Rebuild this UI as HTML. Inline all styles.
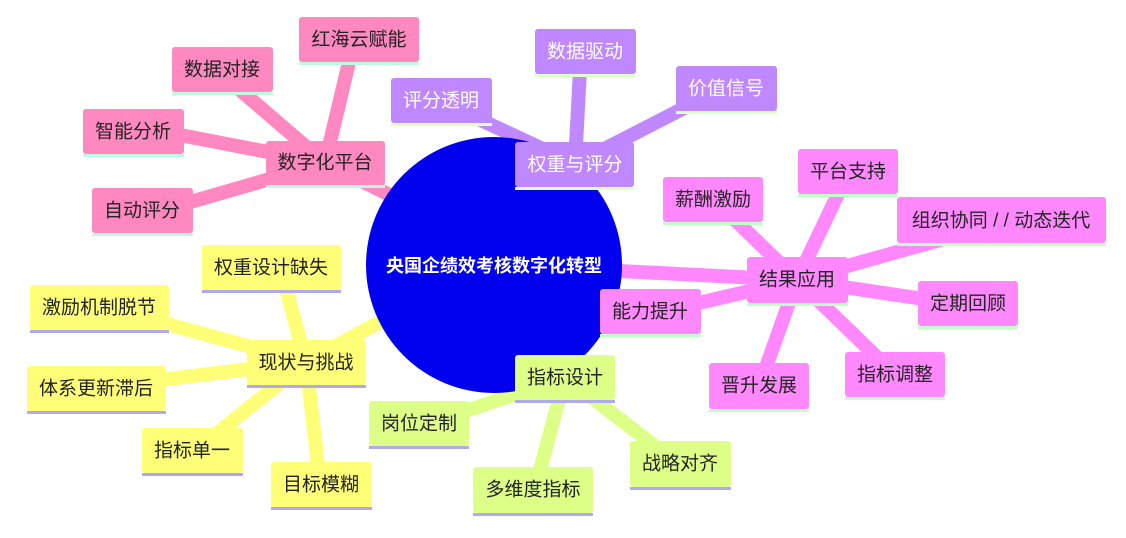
<!DOCTYPE html>
<html><head><meta charset="utf-8"><style>
body{margin:0;background:#fff}
svg text{font-family:"Liberation Sans","Noto Sans CJK SC",sans-serif;font-size:19px;dominant-baseline:central;text-anchor:middle}
</style></head><body>
<svg width="1126" height="533" viewBox="0 0 1126 533" xmlns="http://www.w3.org/2000/svg">
<g stroke-linecap="round" fill="none">
<g stroke="#ff88c0" stroke-width="14">
<line x1="400" y1="200" x2="325" y2="163"/>
<line x1="325" y1="163" x2="350" y2="58"/>
<line x1="325" y1="163" x2="240" y2="90"/>
<line x1="325" y1="163" x2="180" y2="135"/>
<line x1="325" y1="163" x2="180" y2="205"/>
</g>
<g stroke="#c088ff" stroke-width="14">
<line x1="575" y1="164" x2="580" y2="70"/>
<line x1="575" y1="164" x2="470" y2="115"/>
<line x1="575" y1="164" x2="690" y2="105"/>
</g>
<g stroke="#ff88ff" stroke-width="14">
<line x1="600" y1="270" x2="797" y2="280"/>
<line x1="797" y1="280" x2="730" y2="215"/>
<line x1="797" y1="280" x2="840" y2="190"/>
<line x1="797" y1="280" x2="940" y2="240"/>
<line x1="797" y1="280" x2="930" y2="300"/>
<line x1="797" y1="280" x2="880" y2="360"/>
<line x1="797" y1="280" x2="765" y2="370"/>
<line x1="797" y1="280" x2="690" y2="305"/>
</g>
<g stroke="#ffff77" stroke-width="14">
<line x1="380" y1="322" x2="306" y2="362"/>
<line x1="306" y1="362" x2="285" y2="285"/>
<line x1="306" y1="362" x2="160" y2="322"/>
<line x1="306" y1="362" x2="160" y2="380"/>
<line x1="306" y1="362" x2="215" y2="435"/>
<line x1="306" y1="362" x2="318" y2="465"/>
</g>
<g stroke="#ddff88" stroke-width="14">
<line x1="565" y1="377" x2="440" y2="420"/>
<line x1="565" y1="377" x2="540" y2="470"/>
<line x1="565" y1="377" x2="660" y2="450"/>
</g>
</g>
<circle cx="494" cy="265" r="128" fill="#0000ee"/>
<text x="494" y="266" fill="#fff" font-weight="bold" style="font-size:18px">央国企绩效考核数字化转型</text>

<g>
<g fill="#ff88c0">
<rect x="266" y="141" width="119" height="44" rx="3"/>
<rect x="299" y="17" width="120" height="45" rx="3"/>
<rect x="172" y="47" width="101" height="45" rx="3"/>
<rect x="83" y="109" width="101" height="45" rx="3"/>
<rect x="92" y="188" width="101" height="45" rx="3"/>
</g>
<g fill="#c0f8e0">
<rect x="266" y="185" width="119" height="3"/>
<rect x="299" y="62" width="120" height="3"/>
<rect x="172" y="92" width="101" height="3"/>
<rect x="83" y="154" width="101" height="3"/>
<rect x="92" y="233" width="101" height="3"/>
</g>
<g fill="#222">
<text x="325" y="163">数字化平台</text>
<text x="359" y="40">红海云赋能</text>
<text x="222" y="70">数据对接</text>
<text x="133" y="132">智能分析</text>
<text x="142" y="211">自动评分</text>
</g>
<g fill="#c088ff">
<rect x="515" y="142" width="119" height="45" rx="3"/>
<rect x="391" y="78" width="101" height="45" rx="3"/>
<rect x="535" y="29" width="101" height="45" rx="3"/>
<rect x="676" y="66" width="101" height="45" rx="3"/>
</g>
<g fill="#ddffc8">
<rect x="515" y="187" width="119" height="3"/>
<rect x="391" y="123" width="101" height="3"/>
<rect x="535" y="74" width="101" height="3"/>
<rect x="676" y="111" width="101" height="3"/>
</g>
<g fill="#fff">
<text x="575" y="165">权重与评分</text>
<text x="441" y="101">评分透明</text>
<text x="585" y="52">数据驱动</text>
<text x="726" y="89">价值信号</text>
</g>
<g fill="#ff88ff">
<rect x="747" y="257" width="101" height="46" rx="3"/>
<rect x="663" y="177" width="100" height="45" rx="3"/>
<rect x="798" y="149" width="100" height="45" rx="3"/>
<rect x="897" y="197" width="209" height="46" rx="3"/>
<rect x="918" y="281" width="100" height="45" rx="3"/>
<rect x="845" y="352" width="100" height="45" rx="3"/>
<rect x="709" y="363" width="100" height="46" rx="3"/>
<rect x="600" y="289" width="101" height="45" rx="3"/>
</g>
<g fill="#c0ffc8">
<rect x="747" y="303" width="101" height="3"/>
<rect x="663" y="222" width="100" height="3"/>
<rect x="798" y="194" width="100" height="3"/>
<rect x="897" y="243" width="209" height="3"/>
<rect x="918" y="326" width="100" height="3"/>
<rect x="845" y="397" width="100" height="3"/>
<rect x="709" y="409" width="100" height="3"/>
<rect x="600" y="334" width="101" height="3"/>
</g>
<g fill="#222">
<text x="797" y="280">结果应用</text>
<text x="713" y="200">薪酬激励</text>
<text x="848" y="172">平台支持</text>
<text x="1001" y="221">组织协同 / / 动态迭代</text>
<text x="968" y="304">定期回顾</text>
<text x="895" y="375">指标调整</text>
<text x="759" y="386">晋升发展</text>
<text x="650" y="312">能力提升</text>
</g>
<g fill="#ffff77">
<rect x="247" y="340" width="119" height="45" rx="3"/>
<rect x="202" y="245" width="139" height="45" rx="3"/>
<rect x="30" y="285" width="139" height="45" rx="3"/>
<rect x="27" y="366" width="139" height="45" rx="3"/>
<rect x="142" y="428" width="101" height="45" rx="3"/>
<rect x="271" y="462" width="101" height="45" rx="3"/>
</g>
<g fill="#b0a8f0">
<rect x="247" y="385" width="119" height="3"/>
<rect x="202" y="290" width="139" height="3"/>
<rect x="30" y="330" width="139" height="3"/>
<rect x="27" y="411" width="139" height="3"/>
<rect x="142" y="473" width="101" height="3"/>
<rect x="271" y="507" width="101" height="3"/>
</g>
<g fill="#222">
<text x="306" y="363">现状与挑战</text>
<text x="271" y="268">权重设计缺失</text>
<text x="99" y="308">激励机制脱节</text>
<text x="96" y="389">体系更新滞后</text>
<text x="192" y="451">指标单一</text>
<text x="321" y="485">目标模糊</text>
</g>
<g fill="#ddff88">
<rect x="515" y="355" width="100" height="45" rx="3"/>
<rect x="369" y="401" width="100" height="45" rx="3"/>
<rect x="473" y="467" width="120" height="46" rx="3"/>
<rect x="630" y="441" width="101" height="46" rx="3"/>
</g>
<g fill="#b0a8f0">
<rect x="515" y="400" width="100" height="3"/>
<rect x="369" y="446" width="100" height="3"/>
<rect x="473" y="513" width="120" height="3"/>
<rect x="630" y="487" width="101" height="3"/>
</g>
<g fill="#222">
<text x="565" y="378">指标设计</text>
<text x="419" y="424">岗位定制</text>
<text x="533" y="490">多维度指标</text>
<text x="680" y="464">战略对齐</text>
</g>
</g>
</svg>
</body></html>
